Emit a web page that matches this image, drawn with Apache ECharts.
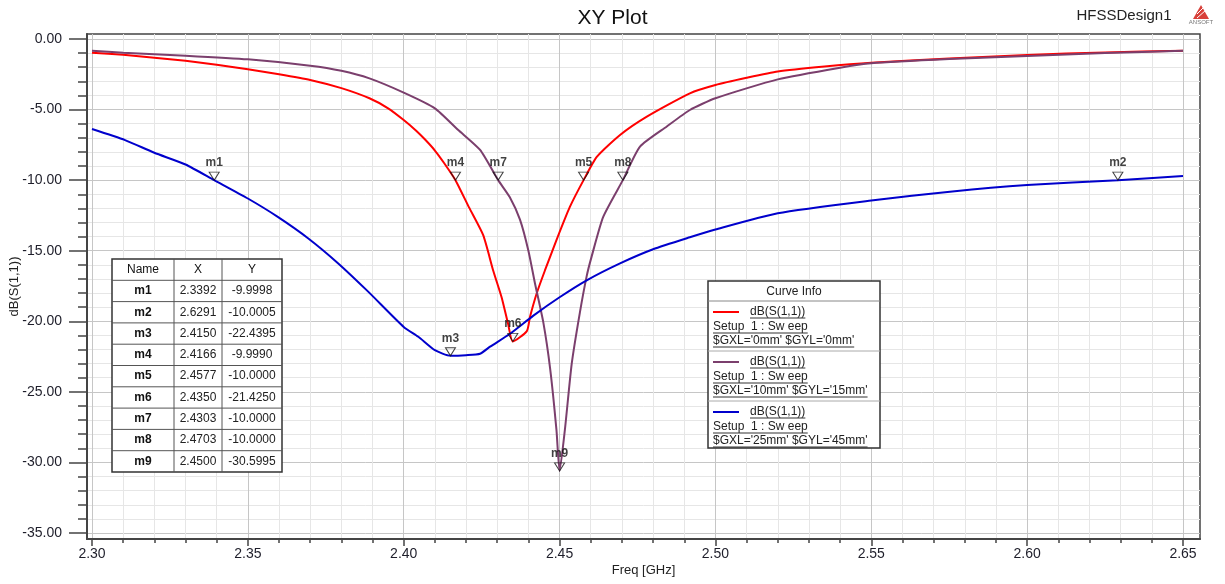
<!DOCTYPE html>
<html><head><meta charset="utf-8">
<script src="https://cdn.jsdelivr.net/npm/echarts@6/dist/echarts.min.js"></script>
<style>html,body{margin:0;padding:0;background:#fff}#c{width:1225px;height:584px}</style>
</head><body><div id="c"></div>
<script>
// ---------------- data ----------------
const redFreq = [2.300,2.310,2.320,2.330,2.340,2.350,2.360,2.370,2.380,2.389,2.395,2.400,2.404,2.407,2.410,2.413,2.4166,2.421,2.4255,2.4287,2.4314,2.4335,2.435,2.4395,2.4405,2.4427,2.4453,2.449,2.4533,2.4577,2.462,2.4694,2.478,2.4918,2.500,2.510,2.520,2.535,2.550,2.575,2.600,2.625,2.650];
const redDb   = [-0.97,-1.12,-1.32,-1.54,-1.83,-2.15,-2.50,-2.90,-3.48,-4.20,-4.91,-5.74,-6.50,-7.16,-7.90,-8.80,-10.00,-11.95,-13.9,-16.4,-18.3,-20.2,-21.43,-20.7,-19.7,-18.0,-16.4,-14.25,-11.9,-10.0,-8.34,-6.8,-5.5,-3.85,-3.26,-2.75,-2.30,-1.95,-1.68,-1.38,-1.13,-0.95,-0.83];

const purpleFreq = [2.300,2.310,2.330,2.350,2.370,2.380,2.389,2.400,2.410,2.4175,2.4245,2.4303,2.434,2.4373,2.440,2.4421,2.4448,2.447,2.449,2.450,2.4517,2.4539,2.4565,2.4587,2.4603,2.464,2.4703,2.4758,2.4844,2.4918,2.500,2.520,2.540,2.550,2.575,2.600,2.625,2.650];
const purpleDb   = [-0.83,-0.97,-1.18,-1.44,-1.89,-2.25,-2.79,-3.80,-4.91,-6.45,-7.86,-10.0,-11.2,-12.8,-15.0,-17.3,-20.1,-23.4,-27.7,-30.6,-27.7,-23.0,-19.4,-16.8,-15.4,-12.6,-10.0,-7.63,-6.2,-5.03,-4.2,-2.86,-2.03,-1.72,-1.42,-1.2,-1.0,-0.83];

const blueFreq = [2.300,2.3106,2.320,2.330,2.3392,2.350,2.3596,2.3694,2.379,2.3886,2.400,2.4047,2.410,2.415,2.420,2.4245,2.4277,2.434,2.4416,2.450,2.4587,2.4694,2.480,2.4918,2.500,2.520,2.550,2.576,2.600,2.6291,2.650];
const blueDb   = [-6.38,-7.16,-8.06,-8.89,-10.0,-11.3,-12.6,-14.13,-15.9,-17.9,-20.4,-21.1,-22.05,-22.44,-22.4,-22.3,-21.8,-20.9,-19.6,-18.3,-17.1,-15.9,-14.9,-14.05,-13.5,-12.35,-11.45,-10.8,-10.35,-10.0,-9.7];

const markerNames = ['m1','m2','m3','m4','m5','m6','m7','m8','m9'];
const markerX = [2.3392,2.6291,2.4150,2.4166,2.4577,2.4350,2.4303,2.4703,2.4500];
const markerY = [-9.9998,-10.0005,-22.4395,-9.9990,-10.0000,-21.4250,-10.0000,-10.0000,-30.5995];

const xMajorTicks = [2.30,2.35,2.40,2.45,2.50,2.55,2.60,2.65];
const yMajorTicks = [0,-5,-10,-15,-20,-25,-30,-35];

const curveNames = ['dB(S(1,1))','dB(S(1,1))','dB(S(1,1))'];
const curveSetups = ['Setup  1 : Sw eep','Setup  1 : Sw eep','Setup  1 : Sw eep'];
const curveVars = ["$GXL='0mm' $GYL='0mm'","$GXL='10mm' $GYL='15mm'","$GXL='25mm' $GYL='45mm'"];
const curveColors = ['#ff0000','#7b3f6d','#0000cc'];

// ---------------- helpers ----------------
const FONT = 'Arial, "Liberation Sans", sans-serif';
const xMinorTicks = [];
for (let i = 0; i <= 35; i++) { if (i % 5) xMinorTicks.push(+(2.30 + i * 0.01).toFixed(2)); }
const yMinorTicks = [];
for (let i = 0; i <= 35; i++) { if (i % 5) yMinorTicks.push(-i); }
const zip = (a, b) => a.map((v, i) => [v, b[i]]);

const mctx = document.createElement('canvas').getContext('2d');
function tw(t, size, weight) { mctx.font = (weight || 'normal') + ' ' + size + 'px ' + FONT; return mctx.measureText(t).width; }

function txt(x, y, text, opt) {
  opt = opt || {};
  return { type: 'text', x: x, y: y, z: 100, style: {
    text: text, fill: opt.fill || '#111', fontSize: opt.size || 12, fontFamily: FONT,
    fontWeight: opt.weight || 'normal',
    align: opt.align || 'left', textAlign: opt.align || 'left',
    verticalAlign: 'middle', textVerticalAlign: 'middle' } };
}
function line(x1, y1, x2, y2, color, w) {
  return { type: 'line', z: 100, shape: { x1: x1, y1: y1, x2: x2, y2: y2 }, style: { stroke: color, lineWidth: w || 1 } };
}

// ---------------- layout ----------------
const BOX = { l: 87, t: 34, r: 1200, b: 539 };
const X_PX_PER = 155.86 / 0.05, Y_PX_PER = 14.106;
const XMIN = 2.30 - 5 / X_PX_PER, XMAX = 2.65 + 17 / X_PX_PER;
const YMAX = 5 / Y_PX_PER, YMIN = -35 - 6 / Y_PX_PER;

const graphics = [];
// header right
graphics.push(txt(1124, 16, 'HFSSDesign1', { size: 15, align: 'center', fill: '#222' }));
graphics.push({ type: 'polygon', z: 100, shape: { points: [[1201, 5], [1193, 19], [1209, 19]] }, style: { fill: '#d8403a' } });
graphics.push(line(1197, 14, 1203, 8, '#fff', 1));
graphics.push(line(1197, 18, 1206, 10, '#fff', 1));
graphics.push(txt(1201, 22, 'ANSOFT', { size: 6, align: 'center', fill: '#777' }));

// marker table
(function () {
  const x0 = 112, y0 = 259, cw = [62, 48, 60], rh = 21.3, n = markerNames.length + 1;
  const W = cw[0] + cw[1] + cw[2], H = rh * n;
  graphics.push({ type: 'rect', z: 99, shape: { x: x0, y: y0, width: W, height: H }, style: { fill: '#fff', stroke: '#333', lineWidth: 1.5 } });
  for (let r = 1; r < n; r++) graphics.push(line(x0, y0 + r * rh, x0 + W, y0 + r * rh, '#555', 1));
  graphics.push(line(x0 + cw[0], y0, x0 + cw[0], y0 + H, '#555', 1));
  graphics.push(line(x0 + cw[0] + cw[1], y0, x0 + cw[0] + cw[1], y0 + H, '#555', 1));
  const cx = [x0 + cw[0] / 2, x0 + cw[0] + cw[1] / 2, x0 + cw[0] + cw[1] + cw[2] / 2];
  const hy = y0 + rh / 2;
  graphics.push(txt(cx[0], hy, 'Name', { align: 'center' }));
  graphics.push(txt(cx[1], hy, 'X', { align: 'center' }));
  graphics.push(txt(cx[2], hy, 'Y', { align: 'center' }));
  markerNames.forEach((m, i) => {
    const y = y0 + rh * (i + 1) + rh / 2;
    graphics.push(txt(cx[0], y, m, { align: 'center', weight: 'bold' }));
    graphics.push(txt(cx[1], y, markerX[i].toFixed(4), { align: 'center', fill: '#222' }));
    graphics.push(txt(cx[2], y, markerY[i].toFixed(4), { align: 'center', fill: '#222' }));
  });
})();

// curve info box
(function () {
  const x0 = 708, y0 = 281, W = 172, H = 167, hh = 20, sh = 50;
  graphics.push({ type: 'rect', z: 99, shape: { x: x0, y: y0, width: W, height: H }, style: { fill: '#fff', stroke: '#333', lineWidth: 1.5 } });
  graphics.push(txt(x0 + W / 2, y0 + 10.5, 'Curve Info', { align: 'center', fill: '#222' }));
  graphics.push(line(x0, y0 + hh, x0 + W, y0 + hh, '#888', 1));
  curveNames.forEach((nm, i) => {
    const sy = y0 + hh + i * sh;
    if (i > 0) graphics.push(line(x0, sy, x0 + W, sy, '#aaa', 1));
    const l1 = sy + 11, l2 = sy + 26, l3 = sy + 40;
    graphics.push(line(x0 + 5, l1, x0 + 31, l1, curveColors[i], 2));
    graphics.push(txt(x0 + 42, l1, nm, { fill: '#222' }));
    graphics.push(line(x0 + 42, l1 + 6, x0 + 42 + tw(nm, 12), l1 + 6, '#333', 1));
    graphics.push(txt(x0 + 5, l2, curveSetups[i], { fill: '#222' }));
    graphics.push(line(x0 + 5, l2 + 6, x0 + 5 + tw(curveSetups[i], 12), l2 + 6, '#333', 1));
    graphics.push(txt(x0 + 5, l3, curveVars[i], { fill: '#222' }));
    graphics.push(line(x0 + 5, l3 + 6, x0 + 5 + tw(curveVars[i], 12), l3 + 6, '#333', 1));
  });
})();

// ---------------- chart ----------------
const chart = echarts.init(document.getElementById('c'), null, { renderer: 'canvas' });
const axisCol = '#444';
const lblStyle = { fontSize: 14, color: '#1e1e2a', fontFamily: FONT };
const lineSeries = (name, f, d, col, z) => ({
  type: 'line', name: name, data: zip(f, d), showSymbol: false, smooth: 0.2,
  lineStyle: { color: col, width: 2 }, itemStyle: { color: col }, z: z, emphasis: { disabled: true }
});
chart.setOption({
  animation: false,
  backgroundColor: '#fff',
  title: { text: 'XY Plot', left: 'center', top: 3, textStyle: { fontSize: 21, fontWeight: 'normal', color: '#111', fontFamily: FONT } },
  grid: { left: BOX.l, right: 1225 - BOX.r, top: BOX.t, bottom: 584 - BOX.b, containLabel: false, outerBoundsMode: 'none',
          show: true, borderColor: axisCol, borderWidth: 1.5, backgroundColor: '#fff' },
  xAxis: [
    { type: 'value', position: 'bottom', min: XMIN, max: XMAX,
      name: 'Freq [GHz]', nameLocation: 'middle', nameGap: 25, nameMoveOverlap: false,
      nameTextStyle: { fontSize: 13, color: '#222', fontFamily: FONT },
      axisLine: { show: true, onZero: false, lineStyle: { color: axisCol, width: 2 } },
      axisTick: { show: true, customValues: xMajorTicks, length: 7, lineStyle: { color: axisCol, width: 1.5 } },
      axisLabel: Object.assign({ customValues: xMajorTicks, margin: 8, formatter: v => v.toFixed(2) }, lblStyle),
      splitLine: { show: true, lineStyle: { color: '#c6c6c6', width: 1 } } },
    { type: 'value', position: 'bottom', min: XMIN, max: XMAX,
      axisLine: { show: false, onZero: false },
      axisTick: { show: true, customValues: xMinorTicks, length: 4, lineStyle: { color: axisCol, width: 1.5 } },
      axisLabel: { show: false },
      splitLine: { show: true, lineStyle: { color: '#e6e6e6', width: 1 } } }
  ],
  yAxis: [
    { type: 'value', position: 'left', min: YMIN, max: YMAX,
      name: 'dB(S(1,1))', nameLocation: 'middle', nameGap: 66, nameMoveOverlap: false,
      nameTextStyle: { fontSize: 13, color: '#222', fontFamily: FONT },
      axisLine: { show: true, onZero: false, lineStyle: { color: axisCol, width: 2 } },
      axisTick: { show: true, customValues: yMajorTicks, length: 18, lineStyle: { color: axisCol, width: 1.5 } },
      axisLabel: Object.assign({ customValues: yMajorTicks, margin: 25, formatter: v => v.toFixed(2) }, lblStyle),
      splitLine: { show: true, lineStyle: { color: '#c6c6c6', width: 1 } } },
    { type: 'value', position: 'left', min: YMIN, max: YMAX,
      axisLine: { show: false, onZero: false },
      axisTick: { show: true, customValues: yMinorTicks, length: 9, lineStyle: { color: axisCol, width: 1.5 } },
      axisLabel: { show: false },
      splitLine: { show: true, lineStyle: { color: '#e6e6e6', width: 1 } } }
  ],
  series: [
    lineSeries(curveVars[0], redFreq, redDb, curveColors[0], 3),
    lineSeries(curveVars[1], purpleFreq, purpleDb, curveColors[1], 3),
    lineSeries(curveVars[2], blueFreq, blueDb, curveColors[2], 4),
    { type: 'scatter', name: 'markers', z: 6,
      data: markerNames.map((n, i) => ({ name: n, value: [markerX[i], markerY[i]] })),
      symbol: 'triangle', symbolRotate: 180, symbolSize: [10, 8], symbolOffset: [0, -4],
      itemStyle: { color: 'rgba(255,255,255,0)', borderColor: '#111', borderWidth: 1 },
      label: { show: true, position: 'top', distance: 3, formatter: p => p.name, fontSize: 12, fontWeight: 'bold', color: '#111', fontFamily: FONT },
      emphasis: { disabled: true } }
  ],
  graphic: graphics
});
</script>
</body></html>
